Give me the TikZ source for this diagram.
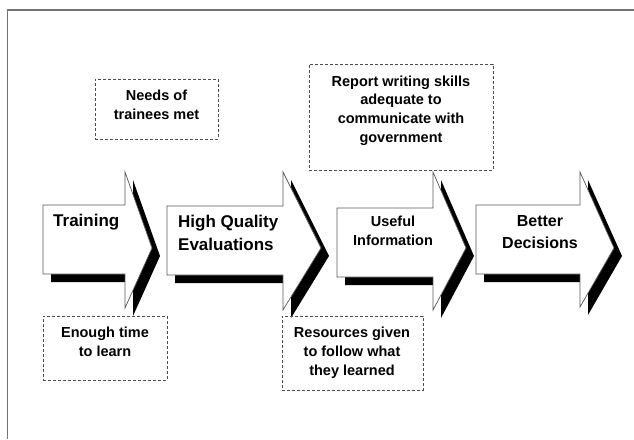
\documentclass[tikz,border=0pt]{standalone}
\usepackage{fontspec}
\setmainfont{Liberation Sans}
% block arrow with a drop shadow:
% #1 left, #2 body top, #3 body bottom, #4 head base x,
% #5 head top, #6 head bottom, #7 tip x, #8 tip y
\newcommand\stagearrow[8]{%
  \fill[arrowshadow] (#1+8,#2+8) -- (#4+8,#2+8) -- (#4+8,#5+8) -- (#7+8,#8+8)
    -- (#4+8,#6+8) -- (#4+8,#3+8) -- (#1+8,#3+8) -- cycle;
  \draw[arrowbody] (#1,#2) -- (#4,#2) -- (#4,#5) -- (#7,#8)
    -- (#4,#6) -- (#4,#3) -- (#1,#3) -- cycle;
}
\begin{document}
\begin{tikzpicture}[x=1pt,y=-1pt,
  arrowbody/.style={draw=black!65, line width=0.7pt, fill=white, line join=miter},
  arrowshadow/.style={fill=black},
  notebox/.style={draw=black!70, dash pattern=on 3pt off 2pt, line width=0.8pt,
    inner sep=0pt, anchor=north west},
  notetext/.style={font=\bfseries\fontsize{14.5}{19}\selectfont, align=center,
    inner sep=0pt, anchor=north},
  stagebig/.style={font=\bfseries\fontsize{17}{23}\selectfont, inner sep=0pt},
  stagemid/.style={font=\bfseries\fontsize{16}{22.5}\selectfont, inner sep=0pt},
  stagesmall/.style={font=\bfseries\fontsize{14.5}{19.5}\selectfont, inner sep=0pt}
]
\useasboundingbox (0,0) rectangle (634,439);
\fill[white] (0,0) rectangle (634,439);

% outer frame (open to the right and bottom)
\draw[black!55, line width=1.4pt] (7.5,439) -- (7.5,10) -- (634,10);

% the four stages
\stagearrow{43}{205}{274}{125}{172}{308}{152}{248}
\stagearrow{167}{206}{275}{283}{172}{310}{321}{248}
\stagearrow{337}{208}{277}{433}{172}{310}{466}{248}
\stagearrow{476}{205}{274}{580}{172}{307}{614}{248}

\node[stagebig, anchor=north west] (training) at (53,213.6) {Training};
\node[stagebig, anchor=north west, align=left] (quality) at (178,214.6)
  {High Quality\\Evaluations};
\node[stagesmall, anchor=north, align=center] (useful) at (393,215.4)
  {Useful\\Information};
\node[stagemid, anchor=north, align=center] (better) at (540,215)
  {Better\\Decisions};

% conditions between the stages
\node[notebox, minimum width=123pt, minimum height=60pt] (needsbox) at (95,79) {};
\node[notetext] (needs) at (156.5,90.1) {Needs of\\trainees met};

\node[notebox, minimum width=184pt, minimum height=106pt] (reportbox) at (309,64) {};
\node[notetext, font=\bfseries\fontsize{14.5}{18.7}\selectfont] (report) at (401,75.4)
  {Report writing skills\\adequate to\\communicate with\\government};

\node[notebox, minimum width=124pt, minimum height=64pt] (timebox) at (43,316) {};
\node[notetext] (time) at (105,326.4) {Enough time\\to learn};

\node[notebox, minimum width=141pt, minimum height=74pt] (resbox) at (282,316) {};
\node[notetext] (resources) at (352,326.4)
  {Resources given\\to follow what\\they learned};
\end{tikzpicture}
\end{document}
